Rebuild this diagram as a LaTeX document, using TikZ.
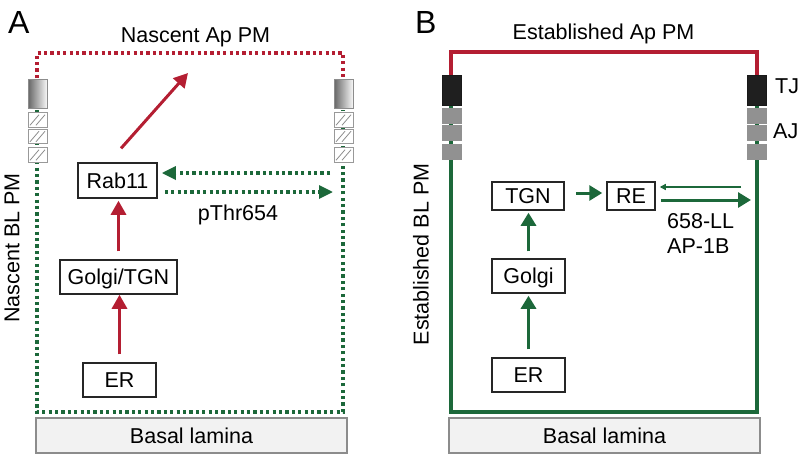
\documentclass[tikz,border=0pt]{standalone}
\usepackage{fontspec}
\setmainfont{Liberation Sans}
\usetikzlibrary{arrows.meta}
\definecolor{pmred}{RGB}{180,30,50}
\definecolor{pmgreen}{RGB}{28,104,58}
\definecolor{ajgray}{RGB}{145,145,145}
\begin{document}
\begin{tikzpicture}[x=1pt,y=-1pt,
  txt/.style={font=\fontsize{21.5}{24}\selectfont, inner sep=0pt},
  lbl/.style={txt, anchor=base},
  big/.style={font=\fontsize{32}{36}\selectfont, inner sep=0pt, anchor=base west},
  box/.style={txt, draw=black!85, line width=1.5pt, fill=white, text height=15.4pt, text depth=0pt, minimum height=34pt},
  lamina/.style={txt, draw=black!45, line width=1.2pt, fill=black!5, minimum width=311pt, minimum height=35pt, text height=15.4pt, text depth=0pt},
  reddots/.style={draw=pmred, line width=3.2pt, dash pattern=on 3.2pt off 3.2pt},
  greendots/.style={draw=pmgreen, line width=3.2pt, dash pattern=on 3.2pt off 3.2pt},
  redarr/.style={draw=pmred, line width=3pt, -{Triangle[length=14pt,width=15pt]}},
  garr/.style={draw=pmgreen, line width=3pt, -{Triangle[length=13pt,width=15pt]}},
  gdotarr/.style={draw=pmgreen, line width=3.2pt, dash pattern=on 3.2pt off 3.2pt, -{Triangle[length=14pt,width=13pt]}},
  gthin/.style={draw=pmgreen, line width=1.3pt, -{Triangle[length=6pt,width=6pt]}},
  gradbox/.style={draw=black!45, line width=1pt, left color=black!60, right color=black!3, minimum width=19pt, minimum height=29pt, inner sep=0pt},
  hatchbox/.style={draw=black!40, line width=1pt, fill=white, minimum width=19pt, minimum height=14.5pt, inner sep=0pt,
    path picture={\draw[black!45, line width=0.8pt]
      ([shift={(2pt,2pt)}]path picture bounding box.south west) -- ++(9pt,10.5pt)
      ([shift={(8pt,2pt)}]path picture bounding box.south west) -- ++(9pt,10.5pt);}},
  tjbox/.style={draw=black!90, fill=black!88, minimum width=19pt, minimum height=30pt, inner sep=0pt},
  ajbox/.style={draw=ajgray, fill=ajgray, minimum width=19pt, minimum height=15pt, inner sep=0pt}
]
\useasboundingbox (0,0) rectangle (800,455);

% ---------------- Panel A ----------------
\node[big] (labA) at (8,33) {A};
\node[lbl] (aTitle) at (195.5,42) {Nascent Ap PM};
\node[txt, rotate=90] (aSide) at (12,248) {Nascent BL PM};

\coordinate (aL1) at (37,78);
\coordinate (aL0) at (37,53);
\coordinate (aR0) at (343,53);
\coordinate (aR1) at (343,78);
\coordinate (aLb) at (37,412);
\coordinate (aRb) at (343,412);
\coordinate (aLt) at (37,110);
\coordinate (aRt) at (343,110);
\coordinate (aR) at (343,300);

\draw[reddots] (aL1) -- (aL0) -- (aR0) -- (aR1);
\draw[greendots] (aLt) -- (aLb) -- (aRb) -- (aRt);

\node[gradbox] (aLg) at (37.5,93.5) {};
\node[hatchbox] (aLh1) at (37.5,120) {};
\node[hatchbox] (aLh2) at (37.5,136.5) {};
\node[hatchbox] (aLh3) at (37.5,155) {};
\node[gradbox] (aRg) at (343.5,93.5) {};
\node[hatchbox] (aRh1) at (343.5,120) {};
\node[hatchbox] (aRh2) at (343.5,136.5) {};
\node[hatchbox] (aRh3) at (343.5,155) {};

\node[box, minimum width=79pt, minimum height=35pt] (aRab) at (117.5,180.5) {Rab11};
\node[box, minimum width=117pt] (aGolgi) at (118.5,277) {Golgi/TGN};
\node[box, minimum width=73pt] (aER) at (119.5,380) {ER};
\node[lamina] (aLam) at (191.5,435.5) {Basal lamina};
\node[lbl] (aPT) at (238,220) {pThr654};

\coordinate (aApT) at (188,73);
\draw[redarr, shorten <=8pt] (aER.north) -- (aER.north |- aGolgi.south);
\draw[redarr, shorten <=8pt, shorten >=2pt] (aGolgi.north) -- (aGolgi.north |- aRab.south);
\draw[redarr, shorten <=18.6pt] ([xshift=-8.8pt]aRab.north) -- (aApT);

\path ([yshift=7.5pt]aRab.east) coordinate (aRabU);
\path ([yshift=-11.5pt]aRab.east) coordinate (aRabD);
\draw[gdotarr, shorten <=13pt, shorten >=4pt] (aRabU -| aR) -- (aRabU);
\draw[gdotarr, shorten <=7pt, shorten >=10pt] (aRabD) -- (aRabD -| aR);

% ---------------- Panel B ----------------
\node[big] (labB) at (415,33) {B};
\node[lbl] (bTitle) at (603.5,39.5) {Established Ap PM};
\node[txt, rotate=90] (bSide) at (421,254.5) {Established BL PM};

\coordinate (bL1) at (451,78);
\coordinate (bL0) at (451,52);
\coordinate (bR0) at (757,52);
\coordinate (bR1) at (757,78);
\coordinate (bLb) at (451,412);
\coordinate (bRb) at (757,412);
\coordinate (bLt) at (451,100);
\coordinate (bRt) at (757,100);
\coordinate (bR) at (757,300);

\draw[draw=pmred, line width=3.5pt] (bL1) -- (bL0) -- (bR0) -- (bR1);
\draw[draw=pmgreen, line width=3.5pt] (bLt) -- (bLb) -- (bRb) -- (bRt);

\node[tjbox] (bLtj) at (451.5,90) {};
\node[ajbox] (bLa1) at (451.5,115.5) {};
\node[ajbox] (bLa2) at (451.5,132.5) {};
\node[ajbox] (bLa3) at (451.5,151.5) {};
\node[tjbox] (bRtj) at (756.5,90) {};
\node[ajbox] (bRa1) at (756.5,115.5) {};
\node[ajbox] (bRa2) at (756.5,132.5) {};
\node[ajbox] (bRa3) at (756.5,151.5) {};
\node[lbl, anchor=base west] (bTJ) at (775,93) {TJ};
\node[lbl, anchor=base west] (bAJ) at (773,138) {AJ};

\node[box, minimum width=72pt, minimum height=28pt] (bTGN) at (528,196) {TGN};
\node[box, minimum width=48pt, minimum height=28pt] (bRE) at (631,196) {RE};
\node[box, minimum width=73pt] (bGolgi) at (528.5,276) {Golgi};
\node[box, minimum width=73pt] (bER) at (528.5,375) {ER};
\node[lamina] (bLam) at (604.5,435.5) {Basal lamina};
\node[lbl, anchor=base west] (bLL) at (667,228) {658-LL};
\node[lbl, anchor=base west] (bAP) at (667,253) {AP-1B};

\draw[garr, shorten <=8pt, shorten >=2pt] (bER.north) -- (bER.north |- bGolgi.south);
\draw[garr, shorten <=7pt, shorten >=2pt] (bGolgi.north) -- (bGolgi.north |- bTGN.south);
\draw[garr, shorten <=11pt, shorten >=4pt] ([yshift=3pt]bTGN.east) -- ([yshift=3pt]bRE.west);

\path ([yshift=9pt]bRE.east) coordinate (bREu);
\path ([yshift=-4pt]bRE.east) coordinate (bREd);
\draw[gthin, shorten <=16pt, shorten >=4pt] (bREu -| bR) -- (bREu);
\draw[garr, shorten <=5pt, shorten >=6pt] (bREd) -- (bREd -| bR);
\end{tikzpicture}
\end{document}
